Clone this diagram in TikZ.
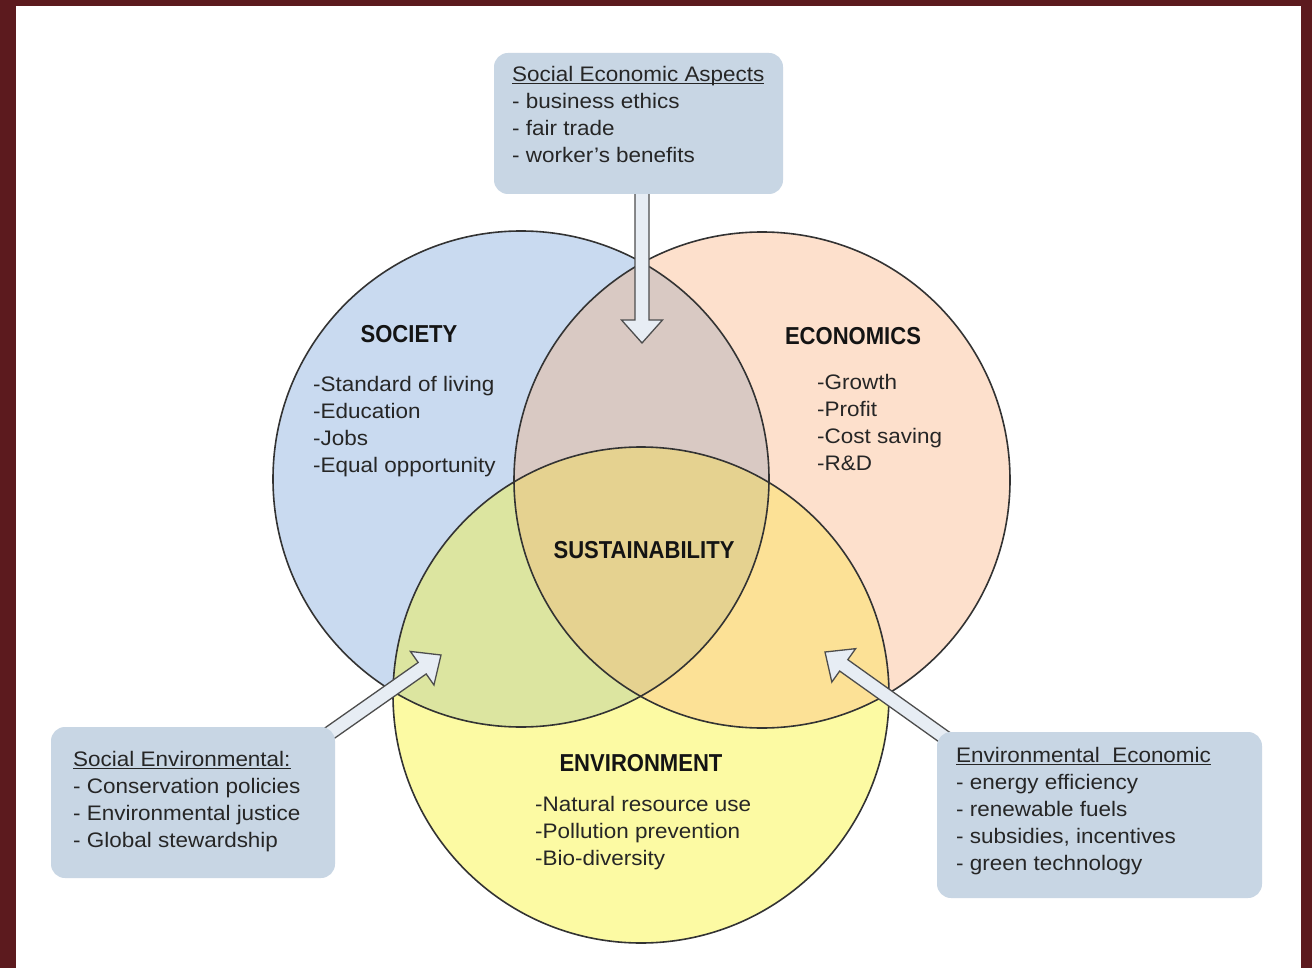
\documentclass[tikz,border=0pt]{standalone}
\usepackage{fontspec}
\setmainfont{Liberation Sans}
\newfontfamily\bodyfont{Liberation Sans}[FakeStretch=1.07]
\newfontfamily\headfont{Liberation Sans}[FakeStretch=0.9]
\usetikzlibrary{calc}
\definecolor{frame}{HTML}{5C1A1E}
\definecolor{socfill}{HTML}{C9DAF0}
\definecolor{ecofill}{HTML}{FDE0CC}
\definecolor{envfill}{HTML}{FCFAA3}
\definecolor{sefill}{HTML}{D9C9C3}
\definecolor{svfill}{HTML}{DCE5A0}
\definecolor{evfill}{HTML}{FCE196}
\definecolor{allfill}{HTML}{E5D290}
\definecolor{ringline}{HTML}{333333}
\definecolor{boxblue}{HTML}{C8D6E4}
\definecolor{arrowfill}{HTML}{E7EDF4}
\definecolor{arrowline}{HTML}{4D4D4D}
\definecolor{txt}{HTML}{262626}
\newcommand\myul[1]{\setbox0\hbox{#1}\rlap{\rule[-3pt]{\wd0}{1.2pt}}\box0}
\newcommand\blockarr[3]{%
  \path coordinate (#1h) at ($(#3)!23pt!(#2)$);
  \draw[blockarrow] ($(#2)!7pt!90:(#3)$) -- ($(#1h)!7pt!90:(#3)$) -- ($(#1h)!20.5pt!90:(#3)$) -- (#3)
    -- ($(#1h)!20.5pt!-90:(#3)$) -- ($(#1h)!7pt!-90:(#3)$) -- ($(#2)!7pt!-90:(#3)$) -- cycle;}
\tikzset{
  heading/.style={font=\headfont\bfseries\fontsize{24.5}{28}\selectfont, text=black!92, inner sep=0},
  body/.style={font=\bodyfont\fontsize{21}{27}\selectfont, align=left, anchor=north west, inner sep=0, text=txt},
  infobox/.style={fill=boxblue, rounded corners=14pt, draw=none, inner sep=0},
  blockarrow/.style={fill=arrowfill, draw=arrowline, line width=1.3pt, line join=miter},
  ring/.style={draw=ringline, line width=1.6pt},
}
\begin{document}
\begin{tikzpicture}[x=1pt,y=-1pt]
\useasboundingbox (0,0) rectangle (1312,968);
\fill[frame] (0,0) rectangle (1312,968);
\fill[white] (16,6) rectangle (1301,968);
% circle centres
\coordinate (cS) at (521,479);
\coordinate (cE) at (762,480);
\coordinate (cV) at (641,695);
% region fills
\fill[socfill] (cS) circle[radius=248pt];
\fill[ecofill] (cE) circle[radius=248pt];
\fill[envfill] (cV) circle[radius=248pt];
\begin{scope}\clip (cS) circle[radius=248pt]; \fill[sefill] (cE) circle[radius=248pt];\end{scope}
\begin{scope}\clip (cS) circle[radius=248pt]; \fill[svfill] (cV) circle[radius=248pt];\end{scope}
\begin{scope}\clip (cE) circle[radius=248pt]; \fill[evfill] (cV) circle[radius=248pt];\end{scope}
\begin{scope}\clip (cS) circle[radius=248pt]; \clip (cE) circle[radius=248pt]; \fill[allfill] (cV) circle[radius=248pt];\end{scope}
\draw[ring] (cS) circle[radius=248pt];
\draw[ring] (cE) circle[radius=248pt];
\draw[ring] (cV) circle[radius=248pt];
% arrows
\coordinate (ttip) at (642,343);
\coordinate (tstart) at (642,185);
\coordinate (ltip) at (441,655);
\coordinate (lstart) at (317,742);
\coordinate (rtip) at (825,652);
\coordinate (rstart) at (954,744);
\blockarr{ta}{tstart}{ttip}
\blockarr{la}{lstart}{ltip}
\blockarr{ra}{rstart}{rtip}
% boxes
\node[infobox, minimum width=289pt, minimum height=141pt] (topbox) at (638.5,123.5) {};
\node[infobox, minimum width=284pt, minimum height=151pt] (leftbox) at (193,802.5) {};
\node[infobox, minimum width=325pt, minimum height=166pt] (rightbox) at (1099.5,815) {};
% box texts
\node[body] (toptext) at (512,62) {\strut\myul{Social Economic Aspects}\\- business ethics\\- fair trade\\- worker’s benefits};
\node[body] (lefttext) at (73,747) {\strut\myul{Social Environmental:}\\- Conservation policies\\- Environmental justice\\- Global stewardship};
\node[body] (righttext) at (956,743) {\strut\myul{Environmental~~Economic}\\- energy efficiency\\- renewable fuels\\- subsidies, incentives\\- green technology};
% circle texts
\node[heading] (society) at (409,334) {SOCIETY};
\node[heading] (economics) at (853,336) {ECONOMICS};
\node[heading] (sustain) at (644,550) {SUSTAINABILITY};
\node[heading] (environment) at (641,763) {ENVIRONMENT};
\node[body] (soclist) at (313,372) {\strut -Standard of living\\-Education\\-Jobs\\-Equal opportunity};
\node[body] (ecolist) at (817,370) {\strut -Growth\\-Profit\\-Cost saving\\-R\&D};
\node[body] (envlist) at (535,792) {\strut -Natural resource use\\-Pollution prevention\\-Bio-diversity};
\end{tikzpicture}
\end{document}
